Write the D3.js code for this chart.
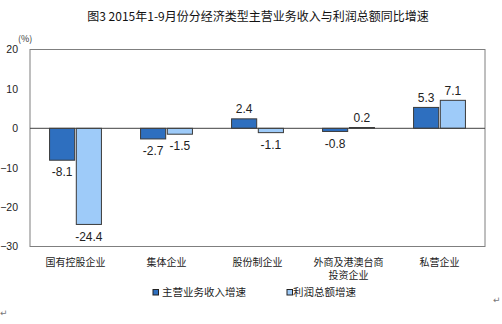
<!DOCTYPE html>
<html><head><meta charset="utf-8">
<script src="https://cdn.jsdelivr.net/npm/d3@7"></script>
<style>
body{margin:0;background:#fff;}
svg{display:block;}
</style></head>
<body>
<svg id="chart" width="502" height="324"></svg>
<script>
const title = "图3 2015年1-9月份分经济类型主营业务收入与利润总额同比增速";
const categories = ["国有控股企业", "集体企业", "股份制企业", "外商及港澳台商|投资企业", "私营企业"];
const seriesNames = ["主营业务收入增速", "利润总额增速"];
const revenueGrowth = [-8.1, -2.7, 2.4, -0.8, 5.3];
const profitGrowth = [-24.4, -1.5, -1.1, 0.2, 7.1];
const yTicks = [20, 10, 0, -10, -20, -30];
const unitLabel = "(%)";

const colors = ["#2e6fbf", "#9ecbf9"];
const svg = d3.select("#chart");
const L = 30, R = 485, T = 49.5, B = 246.5;

const y = d3.scaleLinear().domain([-30, 20]).range([B, T]);
const x = d3.scaleBand().domain(categories).range([L, R]).paddingInner(0.43).paddingOuter(0.215);
const xs = d3.scaleBand().domain([0, 1]).range([0, x.bandwidth()]).paddingInner(0.06);

// title
svg.append("text").attr("x", 258).attr("y", 21).attr("text-anchor", "middle")
  .attr("font-family", "'Noto Sans CJK SC', sans-serif").attr("font-size", 12)
  .attr("fill", "#111").text(title);

// frame
svg.append("rect").attr("x", L).attr("y", T).attr("width", R - L).attr("height", B - T)
  .attr("fill", "none").attr("stroke", "#7f7f7f").attr("stroke-width", 1);

// y axis labels
const yAxis = d3.axisLeft(y).tickValues(yTicks).tickSize(0).tickPadding(12).tickFormat(d3.format("d"));
const ya = svg.append("g").attr("transform", `translate(${L},0)`).call(yAxis);
ya.select(".domain").remove();
ya.selectAll("text").attr("font-family", "'Liberation Sans', Arial, sans-serif").attr("font-size", 10.5).attr("fill", "#222");

svg.append("text").attr("x", 18).attr("y", 42)
  .attr("font-family", "'Noto Sans CJK SC', sans-serif").attr("font-size", 9).attr("fill", "#333").text(unitLabel);

// bars
const data = [revenueGrowth, profitGrowth];
const g = svg.append("g");
categories.forEach((c, i) => {
  data.forEach((s, k) => {
    const v = s[i];
    const x0 = x(c) + xs(k);
    g.append("rect")
      .attr("x", x0).attr("width", xs.bandwidth())
      .attr("y", Math.min(y(v), y(0))).attr("height", Math.abs(y(v) - y(0)))
      .attr("fill", colors[k]).attr("stroke", "#3a3a3a").attr("stroke-width", 1);
    g.append("text")
      .attr("x", x0 + xs.bandwidth() / 2)
      .attr("y", v >= 0 ? y(v) - 10 : y(v) + 12)
      .attr("dy", "0.35em")
      .attr("text-anchor", "middle")
      .attr("font-family", "'Liberation Sans', Arial, sans-serif")
      .attr("font-size", 12).attr("fill", "#222")
      .text(v.toFixed(1));
  });
});

// zero line
svg.append("line").attr("x1", L).attr("x2", R).attr("y1", y(0)).attr("y2", y(0))
  .attr("stroke", "#404040").attr("stroke-width", 1);

// category labels
categories.forEach(c => {
  const lines = c.split("|");
  const t = svg.append("text").attr("text-anchor", "middle")
    .attr("font-family", "'Noto Sans CJK SC', sans-serif").attr("font-size", 10).attr("fill", "#222");
  lines.forEach((ln, j) => {
    t.append("tspan").attr("x", x(c) + x.bandwidth() / 2).attr("y", 265.5 + j * 13.5).text(ln);
  });
});

// legend
const legendItems = [{x: 153, tx: 162}, {x: 287, tx: 293}];
seriesNames.forEach((n, k) => {
  svg.append("rect").attr("x", legendItems[k].x).attr("y", 289.5).attr("width", 5.5).attr("height", 5.5)
    .attr("fill", colors[k]).attr("stroke", "#222").attr("stroke-width", 1);
  svg.append("text").attr("x", legendItems[k].tx).attr("y", 296)
    .attr("font-family", "'Noto Sans CJK SC', sans-serif").attr("font-size", 10.5).attr("fill", "#222").text(n);
});

// paragraph marks
svg.append("text").attr("x", 493).attr("y", 303).attr("font-family", "'DejaVu Sans', sans-serif")
  .attr("font-size", 9).attr("fill", "#777").text("↵");
svg.append("text").attr("x", 0).attr("y", 316).attr("font-family", "'DejaVu Sans', sans-serif")
  .attr("font-size", 9).attr("fill", "#777").text("↵");
</script>
</body></html>
